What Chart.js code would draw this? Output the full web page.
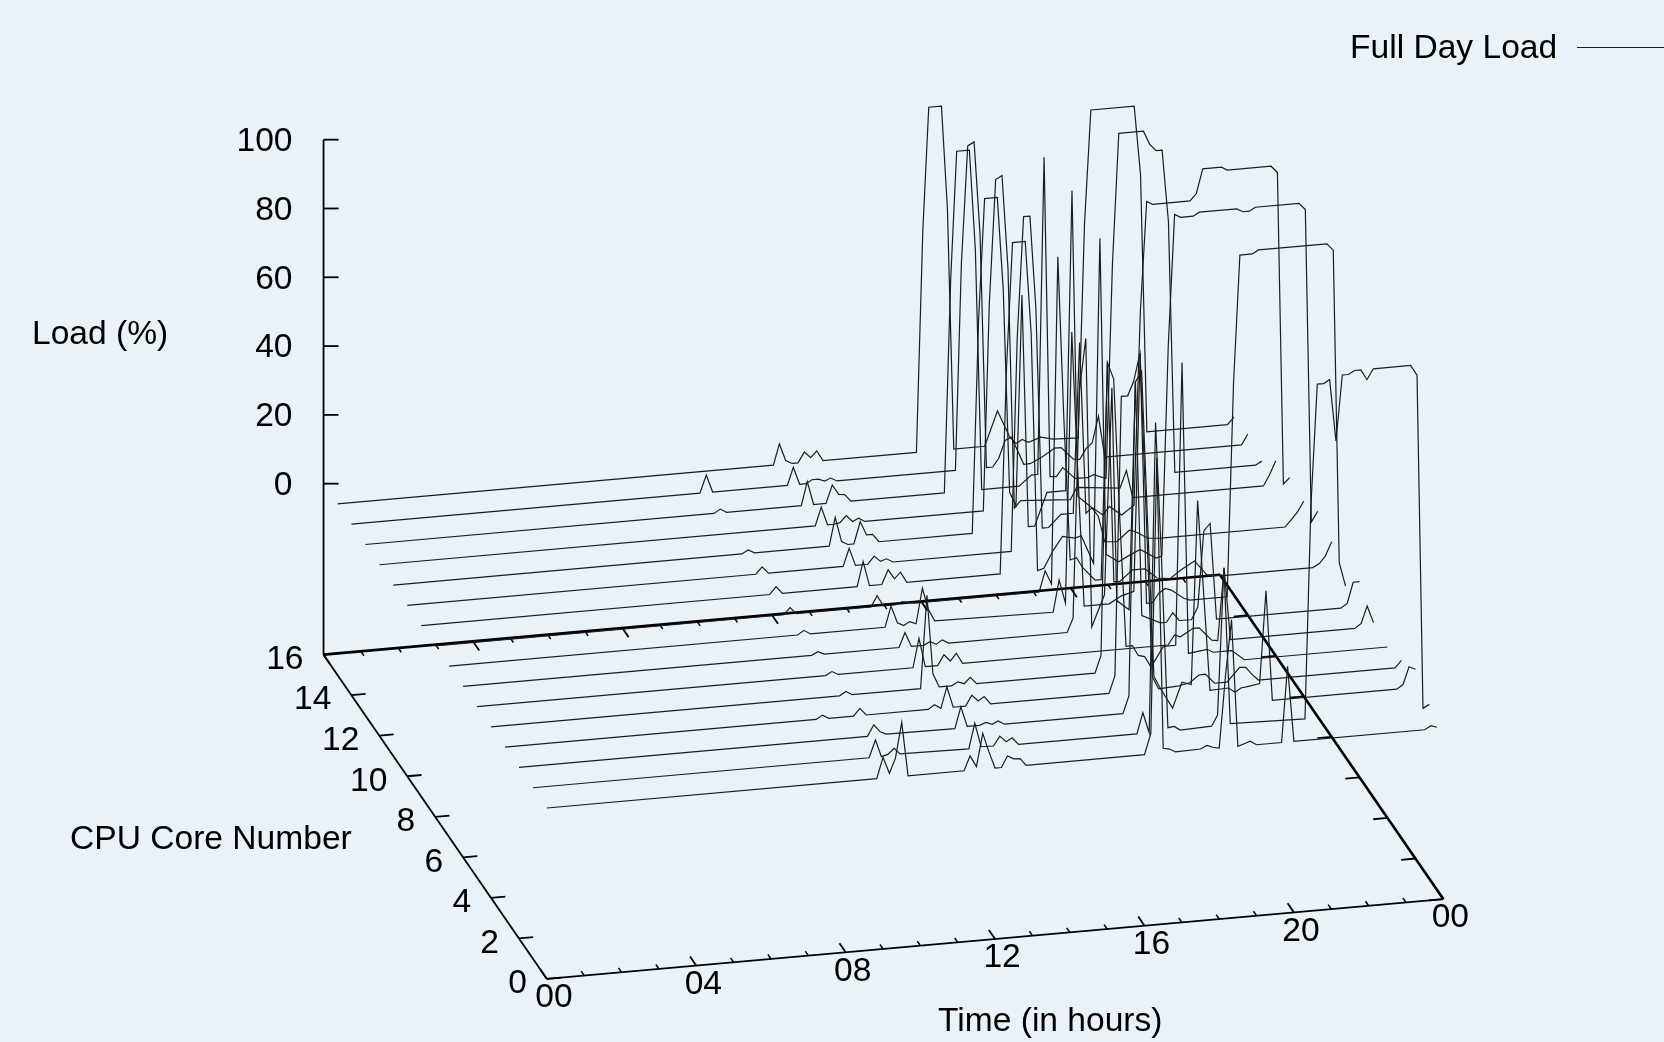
<!DOCTYPE html>
<html>
<head>
<meta charset="utf-8">
<title>Full Day Load</title>
<script src="https://cdn.jsdelivr.net/npm/chart.js@4"></script>
<style>
  html, body { margin: 0; padding: 0; background: #e9f2f8; overflow: hidden; }
  canvas { display: block; }
</style>
</head>
<body>
<canvas id="chart" width="1664" height="1042"></canvas>
<script>
// [hour, load %] samples per cpu core
const core0 = [[0,0],[8.83,0],[9,6],[9.17,1.2],[9.33,5.4],[9.5,15.7],[9.67,0],[11.17,0],[11.33,4.2],[11.5,0.9],[11.67,10.4],[11.83,5],[12,0],[12.17,0],[12.33,3.2],[12.5,2.2],[12.67,2.1],[12.83,0],[16,0],[16.17,6],[16.33,86],[16.5,1.4],[16.67,1],[16.83,0],[17.5,0.2],[17.67,1.1],[17.83,0.4],[18,0],[18.17,21],[18.33,37],[18.5,0],[18.67,0.6],[18.83,1.2],[19,0],[19.67,0],[19.83,22],[20,0],[23.5,0],[23.67,1],[23.83,0.4]];
const core1 = [[0,0],[9,0],[9.17,5],[9.33,0],[9.5,0.5],[9.67,2.1],[9.83,0.3],[11.67,0],[11.83,7.3],[12,0.3],[12.33,0.2],[12.5,2.9],[12.67,1.1],[12.83,2.1],[13,0],[16.17,0],[16.33,6],[16.5,0],[16.67,90],[16.83,50],[17,1],[17.17,1.2],[17.33,0],[18.17,0.3],[18.33,3.4],[18.5,46],[18.67,0.6],[20.67,0],[20.83,62],[21,97],[21.17,97],[21.33,98],[21.5,80],[21.67,99],[21.83,99],[22,100],[22.17,100],[22.33,97],[22.5,100],[23.5,100],[23.67,97],[23.83,0],[24,1]];
const core2 = [[0,0],[9.33,0],[9.5,3.2],[9.67,1],[9.83,0.2],[11.67,0],[11.83,6.2],[12,0.3],[12.33,0.3],[12.5,1],[12.67,0.3],[12.83,1.1],[13,0],[16.17,0],[16.33,5],[16.5,96],[16.67,99],[16.83,55],[17,10],[17.17,6.4],[17.5,0.3],[17.75,7.6],[18,6.7],[18.17,60],[18.5,4.5],[19,4.7],[19.17,3.3],[19.33,4.4],[19.5,4.6],[19.83,5.2],[20,32],[20.17,0],[23.5,0],[23.67,1.2],[23.83,6.2],[24,5.3]];
const core3 = [[0,0],[8.33,0],[8.5,1.1],[8.67,0],[9.33,0],[9.5,2.1],[9.67,0],[11.33,0],[11.5,1.2],[11.67,0],[11.83,6.1],[12,0],[12.33,0],[12.5,3],[12.67,1.2],[12.83,2.3],[13,0],[16.17,0],[16.33,5],[16.5,86],[16.67,86],[16.83,90],[17,98],[17.17,50],[17.33,3.7],[17.5,0],[18,0.3],[18.33,1],[18.58,3],[18.75,3.1],[19,0.2],[19.33,0.2],[19.67,4.2],[19.83,4],[20,1.8],[20.17,0],[23.83,0],[24,2]];
const core4 = [[0,0],[9.33,0],[9.5,1.1],[9.67,0],[11.5,0],[11.67,27],[11.83,4],[12,0],[12.33,0],[12.5,1],[12.67,0.3],[12.83,2],[13,0],[16.17,0],[16.33,5],[16.5,90],[16.67,85],[16.83,45],[17,7],[17.17,7],[17.33,4],[17.5,3.5],[17.67,0.3],[18,6],[18.33,6],[18.5,88],[18.67,3.3],[19.17,4],[19.33,3],[19.67,3],[19.83,3],[20.17,0],[24,0]];
const core5 = [[0,0],[9.33,0],[9.5,1],[9.67,0],[11.67,0],[11.83,8.4],[12,0],[12.33,0],[12.5,3],[12.67,1],[12.83,3.1],[13,0],[18.5,0],[18.67,2.8],[18.83,2.1],[19.17,4.2],[19.33,4.2],[19.67,0.3],[19.83,0],[20,21],[20.17,0],[23.5,0],[23.67,1.3],[23.83,6.2],[24,1.2]];
const core6 = [[0,0],[9.33,0],[9.5,0.9],[9.67,0],[11.67,0],[11.83,4.2],[12,0],[12.33,0],[12.5,0.9],[12.67,0],[12.83,1.1],[13,0],[16.17,0],[16.33,4],[16.5,70],[16.67,85],[16.83,1],[17.17,10],[17.37,70],[17.5,8],[17.83,5],[18,71],[18.17,3],[18.67,0.4],[18.83,0.4],[19,3],[19.17,0.6],[19.5,0.5],[19.67,4],[19.83,26],[20,28],[20.17,0],[23.5,0],[23.67,1.2],[23.83,7.2],[24,7.2]];
const core7 = [[0,0],[9.33,0],[9.5,1.2],[9.67,0],[11.67,0],[11.83,6],[12,1],[12.17,0],[12.33,1],[12.5,0.2],[12.67,10.4],[12.83,4],[13,0.6],[16.17,0],[16.33,9.2],[16.5,2.4],[16.67,81],[16.83,40],[17,1],[17.67,1],[18,3],[18.17,3.5],[18.33,4],[18.5,73],[18.67,0.2],[18.83,0.2],[19,2.8],[19.17,4],[19.33,3.4],[19.67,0.7],[19.83,0],[20.83,0],[21,62],[21.17,99],[21.5,99],[21.67,100],[23.5,100],[23.67,98],[23.83,7],[24,0]];
const core8 = [[0,0],[9.33,0],[9.5,1.9],[9.67,0],[11.67,0],[11.83,3.1],[12,0],[12.33,0],[12.5,0.7],[12.83,0],[16.17,0],[16.33,6],[16.5,2],[16.67,97],[16.83,50],[17,8.5],[17.17,9],[17.33,6],[17.67,2],[17.83,2],[18,65],[18.17,1],[18.33,1],[18.67,4],[19,4],[19.33,1],[19.67,0.5],[20,3],[20.33,5],[20.67,0.5],[21.17,0],[23.5,0],[23.67,1],[23.83,3],[24,7]];
const core9 = [[0,0],[9.33,0],[9.5,2.1],[9.67,0],[11.67,0],[11.83,7.2],[12,0],[12.33,0],[12.5,4.1],[12.67,1.3],[12.83,3.1],[13,0],[15.5,0],[15.67,60],[15.83,96],[16.17,96],[16.33,69],[16.5,0],[16.67,0.5],[16.92,5.5],[17.17,9.3],[17.5,8.5],[17.67,9],[18,0.7],[18.17,95],[18.33,3],[18.67,0.5],[19,2.3],[19.25,3.5],[19.67,0.6],[19.83,1],[20,62],[20.17,100],[20.33,99],[20.67,99],[20.83,100],[21.83,100],[22,99],[22.17,99],[22.33,100],[23.5,100],[23.67,98],[23.83,7],[24,10]];
const core10 = [[0,0],[9.33,0],[9.5,2],[9.67,0],[11.67,0],[11.83,5.1],[12,0],[12.33,0],[12.5,2.2],[12.67,0.5],[12.83,1.1],[13,0],[16.17,0],[16.33,62],[16.5,97],[16.67,97],[16.83,70],[17,6],[17.17,6],[17.5,9.5],[17.83,9.5],[18,59],[18.17,9.2],[18.33,10.6],[18.5,8],[18.67,0.4],[19,0.1],[19.33,3.1],[19.5,2.5],[19.83,0.3],[20.17,0],[23.5,0],[23.67,2],[23.83,4],[24,7]];
const core11 = [[0,0],[9.33,0],[9.5,1],[9.67,0],[11.67,0],[11.83,8.2],[12,1],[12.17,0],[12.33,0],[12.5,6.3],[12.67,2.3],[12.83,2.3],[13,0],[15.5,0],[15.67,62],[15.83,97],[16.17,97],[16.33,70],[16.5,11],[16.67,7],[16.83,68],[17,0.5],[17.17,0.5],[17.5,10],[18,10],[18.17,97],[18.33,8],[18.67,4.7],[19,2],[19.17,4.3],[19.5,1.5],[19.83,4],[20,60],[20.17,92],[20.33,91],[21.33,91],[21.5,93],[21.67,100],[22.17,100],[22.33,99],[23.5,99],[23.67,97],[23.83,6.3],[24,8]];
const core12 = [[0,0],[11.67,0],[11.83,5.3],[12,0],[12.17,0],[12.33,0.3],[12.5,2.2],[12.67,0.3],[12.83,1.1],[13,0],[16.17,0],[16.33,60],[16.5,96],[16.67,97],[16.83,70],[17,0],[17.17,2],[18.5,1],[18.67,4.4],[19.83,3.1],[20,8],[20.17,0],[23.67,0],[23.83,3],[24,7]];
const core13 = [[0,0],[9.33,0],[9.5,1.1],[9.67,0],[11.67,0],[11.83,6.8],[12,0],[12.33,0],[12.5,5.2],[12.67,2.3],[12.83,2.1],[13,0],[15.5,0],[15.67,62],[15.83,99],[16.17,99],[16.33,70],[16.5,0],[17.5,0],[17.83,2.9],[18,3],[18.17,95],[18.33,2],[18.5,1.8],[18.67,4.3],[19,0.8],[19.33,0.7],[19.5,1.4],[19.83,0],[20,62],[20.17,100],[20.83,100],[21,96],[21.17,94],[21.33,94],[21.5,73],[21.67,0],[23.83,0],[24,1]];
const core14 = [[0,0],[9.33,0],[9.5,5.1],[9.67,0],[11.67,0],[11.83,5.1],[12,0],[12.17,0],[12.33,1],[12.5,1],[12.67,0.3],[12.83,1],[13,0],[16.17,0],[16.33,60],[16.5,94],[16.67,95],[16.83,68],[17,0],[17.17,0],[17.33,2.4],[17.5,7.4],[17.67,8.2],[18,0],[18.17,0],[18.5,1.7],[18.83,3.9],[19,3.9],[19.33,0.2],[19.5,0],[19.67,3],[19.83,4.4],[20,12],[20.17,0],[23.83,0],[24,3]];
const core15 = [[0,0],[11.67,0],[11.83,6],[12,1],[12.17,0],[12.33,0],[12.5,3],[12.67,1.2],[12.83,3],[13,0],[15.5,0],[15.67,64],[15.83,100],[16.17,100],[16.33,70],[16.5,0],[17.33,0],[17.67,10],[18,2],[18.17,0],[18.33,1],[18.5,0],[18.83,1.2],[19.17,0.3],[19.83,0],[20,62],[20.17,95],[21.33,95],[21.5,75],[21.67,0],[23.83,0],[24,2]];
const cores = [core0, core1, core2, core3, core4, core5, core6, core7, core8, core9, core10, core11, core12, core13, core14, core15];

// tick labels
const loadTicks = ["0", "20", "40", "60", "80", "100"];
const coreTicks = ["0", "2", "4", "6", "8", "10", "12", "14", "16"];
const hourTicks = ["00", "04", "08", "12", "16", "20", "00"];
const minorHours = [1, 2, 3, 5, 6, 7, 9, 10, 11, 13, 14, 15, 17, 18, 19, 21, 22, 23];

const LINE = "#1c1c1c";
const FONT = '33.6px "Liberation Sans", Arial, sans-serif';

// view of the 3d box: hour, core and load each move the point by a fixed screen step
function project(hour, core, load) {
  return {
    x: 546.9 + 37.35 * hour - 13.96 * core,
    y: 808 - 3.33 * hour - 20.27 * core - 3.44 * load,
  };
}

const FLOOR = -49.7; // floor of the box, in load units

function seg(a, b, width) {
  return { data: [a, b], borderColor: "#000", borderWidth: width };
}

const datasets = cores.map((samples, core) => ({
  label: "Core " + core,
  data: samples.map(([hour, load]) => project(hour, core, load)),
  borderColor: LINE,
  borderWidth: 1.2,
}));

// box edges and load axis
datasets.push(seg(project(0, 0, FLOOR), project(24, 0, FLOOR), 1.8));
datasets.push(seg(project(0, 0, FLOOR), project(0, 16, FLOOR), 1.8));
datasets.push(seg(project(0, 16, FLOOR), project(24, 16, FLOOR), 2.6));
datasets.push(seg(project(24, 0, FLOOR), project(24, 16, FLOOR), 2.6));
datasets.push(seg(project(0, 16, FLOOR), project(0, 16, 100), 1.8));

// tics
loadTicks.forEach((label) => {
  const p = project(0, 16, +label);
  datasets.push(seg(p, { x: p.x + 15, y: p.y }, 1.8));
});
coreTicks.forEach((label) => {
  const core = +label;
  datasets.push(seg(project(0, core, FLOOR), project(0.38, core, FLOOR), 1.8));
  datasets.push(seg(project(24, core, FLOOR), project(23.62, core, FLOOR), 1.8));
});
hourTicks.forEach((label, i) => {
  const hour = i * 4;
  datasets.push(seg(project(hour, 0, FLOOR), project(hour, 0.45, FLOOR), 1.8));
  datasets.push(seg(project(hour, 16, FLOOR), project(hour, 15.55, FLOOR), 1.8));
});
minorHours.forEach((hour) => {
  datasets.push(seg(project(hour, 0, FLOOR), project(hour, 0.22, FLOOR), 1.5));
  datasets.push(seg(project(hour, 16, FLOOR), project(hour, 15.78, FLOOR), 1.5));
});

// all the text and the key
const labelsPlugin = {
  id: "labels",
  beforeDraw(chart) {
    const { ctx, width, height } = chart;
    ctx.fillStyle = "#e9f2f8";
    ctx.fillRect(0, 0, width, height);
  },
  afterDatasetsDraw(chart) {
    const { ctx, scales } = chart;
    const put = (text, x, y, align) => {
      ctx.save();
      ctx.font = FONT;
      ctx.fillStyle = "#000";
      ctx.textAlign = align;
      ctx.textBaseline = "middle";
      ctx.fillText(text, scales.x.getPixelForValue(x), scales.y.getPixelForValue(y));
      ctx.restore();
    };

    loadTicks.forEach((label) => {
      const p = project(0, 16, +label);
      put(label, p.x - 31, p.y + 2, "right");
    });
    coreTicks.forEach((label) => {
      const p = project(0, +label, FLOOR);
      put(label, p.x - 20, p.y + 5, "right");
    });
    hourTicks.forEach((label, i) => {
      const p = project(i * 4, 0, FLOOR);
      put(label, p.x + 7, p.y + 19, "center");
    });

    put("Load (%)", 32, 335, "left");
    put("CPU Core Number", 70, 840, "left");
    put("Time (in hours)", 938, 1022, "left");
    put("Full Day Load", 1350, 49, "left");

    ctx.save();
    ctx.strokeStyle = LINE;
    ctx.lineWidth = 1.2;
    ctx.beginPath();
    ctx.moveTo(scales.x.getPixelForValue(1577), scales.y.getPixelForValue(47.5));
    ctx.lineTo(scales.x.getPixelForValue(1664), scales.y.getPixelForValue(47.5));
    ctx.stroke();
    ctx.restore();
  },
};

new Chart(document.getElementById("chart").getContext("2d"), {
  type: "scatter",
  data: { datasets },
  options: {
    responsive: false,
    animation: false,
    layout: { padding: 0 },
    showLine: true,
    elements: {
      point: { radius: 0, hoverRadius: 0 },
      line: { tension: 0, fill: false },
    },
    plugins: { legend: { display: false }, tooltip: { enabled: false } },
    scales: {
      x: { type: "linear", min: 0, max: 1664, display: false },
      y: { type: "linear", min: 0, max: 1042, reverse: true, display: false },
    },
  },
  plugins: [labelsPlugin],
});
</script>
</body>
</html>
